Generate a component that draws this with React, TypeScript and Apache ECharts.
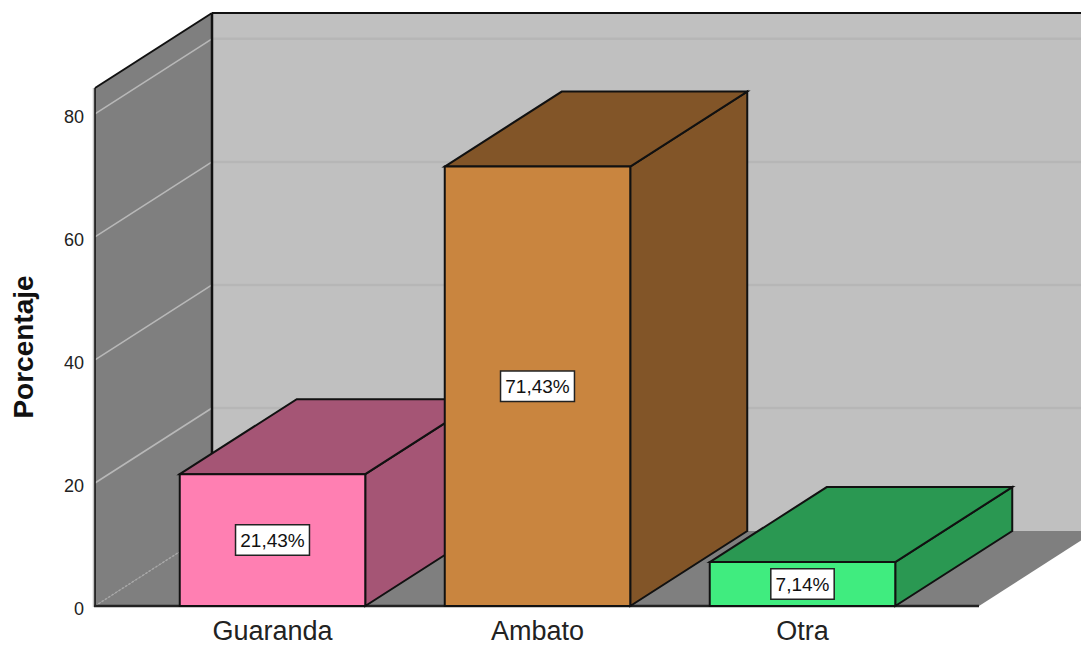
import React, { useEffect, useRef } from "react";
import * as echarts from "echarts";

const categories = ["Guaranda", "Ambato", "Otra"];
const percentages = [21.43, 71.43, 7.14];
const percentLabels = ["21,43%", "71,43%", "7,14%"];
const frontColors = ["#ff7fb2", "#c9853f", "#40ec7f"];
const sideColors = ["#a55575", "#825528", "#2a9852"];
const yTicks = [0, 20, 40, 60, 80];

const Y_MAX = 84.2;
const DEPTH_X = 117;
const DEPTH_Y = -75;
const PAD_LEFT = 45;
const PAD_RIGHT = 44;
const EDGE = "#111111";

const poly = (points: number[][], fill: string, stroke: string | null = EDGE, lineWidth = 2) => ({
  type: "polygon",
  shape: { points },
  style: { fill, stroke, lineWidth },
});
const seg = (a: number[], b: number[], stroke: string, lineWidth: number, lineDash?: number[]) => ({
  type: "line",
  shape: { x1: a[0], y1: a[1], x2: b[0], y2: b[1] },
  style: { stroke, lineWidth, lineDash },
});

function renderRoom(params: any, api: any) {
  const cs = params.coordSys;
  const left = cs.x - PAD_LEFT;
  const right = cs.x + cs.width + PAD_RIGHT;
  const bottom = cs.y + cs.height;
  const top = cs.y;
  const dx = DEPTH_X;
  const dy = DEPTH_Y;
  const children: any[] = [
    poly([[left + dx, top + dy], [right + dx, top + dy], [right + dx, bottom + dy], [left + dx, bottom + dy]], "#c0c0c0", null),
    poly([[left, top], [left + dx, top + dy], [left + dx, bottom + dy], [left, bottom]], "#7f7f7f", null),
    poly([[left, bottom], [left + dx, bottom + dy], [right + dx, bottom + dy], [right, bottom]], "#7f7f7f", null),
  ];
  yTicks.forEach((t) => {
    const y = api.coord([0, t])[1];
    if (t === 0) {
      children.push(seg([left, y], [left + dx, y + dy], "#a8a8a8", 1.5, [2, 2]));
    } else {
      children.push(seg([left, y], [left + dx, y + dy], "#b8b8b8", 1.6));
      children.push(seg([left + dx, y + dy], [right + dx, y + dy], "#b6b6b6", 2.5));
    }
  });
  children.push(seg([left + dx, top + dy], [left + dx, bottom + dy], EDGE, 2.5));
  children.push(seg([left, top], [left + dx, top + dy], EDGE, 2));
  children.push(seg([left + dx, top + dy], [right + dx, top + dy], EDGE, 2));
  children.push(seg([left - 1.5, top], [left - 1.5, bottom + 1], "#c4c4c4", 1.5));
  children.push(seg([left, top], [left, bottom], EDGE, 1.6));
  children.push(seg([left - 1, bottom], [right, bottom], "#222222", 2.5));
  return { type: "group", children };
}

function renderBar(params: any, api: any) {
  const i = params.dataIndex;
  const value = api.value(1);
  const [cx, yTop] = api.coord([api.value(0), value]);
  const yBase = api.coord([api.value(0), 0])[1];
  const half = (api.size([1, 0])[0] * 0.7) / 2;
  const l = cx - half;
  const r = cx + half;
  const dx = DEPTH_X;
  const dy = DEPTH_Y;
  const midY = (yTop + yBase) / 2;
  return {
    type: "group",
    children: [
      poly([[r, yTop], [r + dx, yTop + dy], [r + dx, yBase + dy], [r, yBase]], sideColors[i]),
      poly([[l, yTop], [l + dx, yTop + dy], [r + dx, yTop + dy], [r, yTop]], sideColors[i]),
      poly([[l, yTop], [r, yTop], [r, yBase], [l, yBase]], frontColors[i]),
      {
        type: "text",
        x: cx,
        y: midY,
        style: {
          text: percentLabels[i],
          align: "center",
          verticalAlign: "middle",
          fill: "#111111",
          font: '19px "Liberation Sans", Arial, sans-serif',
          backgroundColor: "#ffffff",
          borderColor: "#222222",
          borderWidth: 1.5,
          padding: [6, 4, 4, 4],
        },
      },
    ],
  };
}

export default function App() {
  const ref = useRef<HTMLDivElement>(null);
  useEffect(() => {
    const chart = echarts.init(ref.current!, undefined, { renderer: "svg" });
    chart.setOption({
      animation: false,
      backgroundColor: "#ffffff",
      grid: { left: 140, top: 88, width: 795, height: 518, outerBoundsMode: "none" },
      xAxis: {
        type: "category",
        data: categories,
        axisLine: { show: false },
        axisTick: { show: false },
        axisLabel: {
          color: "#222222",
          fontFamily: '"Liberation Sans", Arial, sans-serif',
          fontSize: 27,
          lineHeight: 22,
          margin: 14,
        },
      },
      yAxis: {
        type: "value",
        min: 0,
        max: Y_MAX,
        interval: 20,
        offset: PAD_LEFT,
        name: "Porcentaje",
        nameLocation: "middle",
        nameGap: 58,
        nameTextStyle: {
          color: "#111111",
          fontFamily: '"Liberation Sans", Arial, sans-serif',
          fontWeight: "bold",
          fontSize: 28,
        },
        splitLine: { show: false },
        axisLine: { show: false },
        axisTick: { show: false },
        axisLabel: {
          color: "#222222",
          fontFamily: '"Liberation Sans", Arial, sans-serif',
          fontSize: 18,
          margin: 11,
          verticalAlign: "top",
          lineHeight: 6,
          showMaxLabel: false,
        },
      },
      series: [
        {
          type: "custom",
          renderItem: renderRoom,
          clip: false,
          silent: true,
          data: [[0, 0]],
          z: 1,
        },
        {
          type: "custom",
          renderItem: renderBar,
          clip: false,
          data: percentages.map((v, i) => [i, v]),
          encode: { x: 0, y: 1 },
          z: 2,
        },
      ],
    });
    return () => chart.dispose();
  }, []);
  return <div ref={ref} style={{ position: "fixed", left: 0, top: 0, width: 1081, height: 645 }} />;
}
